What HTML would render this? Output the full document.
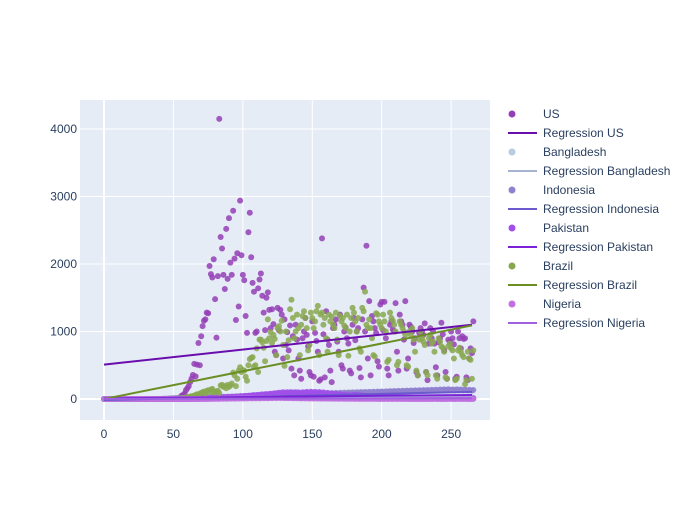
<!DOCTYPE html>
<html><head><meta charset="utf-8"><style>
body{margin:0;background:#fff;font-family:"Liberation Sans",sans-serif}
svg text{font-family:"Liberation Sans",sans-serif;fill:#2a3f5f;font-size:12px}
</style></head><body>
<svg id="chart" width="700" height="500">
<rect x="0" y="0" width="700" height="500" fill="#fff"/>
<rect x="80" y="100" width="410" height="320" fill="#e5ecf6"/>
<g id="grid"></g><g id="marks"></g><g id="lines"></g><g id="axes"></g><g id="legend"></g>
</svg>
<script>
const xTicks=[0,50,100,150,200,250];
const yTicks=[0,1000,2000,3000,4000];
const names=["US","Bangladesh","Indonesia","Pakistan","Brazil","Nigeria"];
const usVals=[0,0,0,0,0,0,0,0,0,0,0,0,0,0,0,0,0,0,0,0,0,0,0,0,0,0,0,0,0,0,0,0,0,0,0,0,0,0,0,0,0,0,0,0,0,
1,0,1,2,3,5,4,8,10,14,
30,50,60,80,130,160,190,250,300,355,520,335,510,830,500,930,1080,1160,1180,1280,1270,1970,1850,1800,2070,1480,910,1820,4150,2400,2230,1840,1630,2520,1780,2680,2020,1840,2790,2080,1170,2160,1370,2940,2130,
1840,1760,1230,980,2470,2760,2100,1720,1590,980,1000,1640,1770,1860,1530,1280,1020,1500,1580,1320,1050,1330,1110,700,650,1350,1020,1320,1250,600,1180,800,990,720,1090,450,930,350,
1100,880,600,420,300,900,1000,1200,950,780,400,350,1150,330,980,860,700,270,290,2380,960,320,1300,880,800,420,250,1050,1100,1180,850,700,1250,500,450,1000,1060,900,820,420,380,1100,1200,870,1000,1050,460,320,1180,1650,1000,2270,600,1450,350,1230,1150,1050,980,560,480,1400,1440,1020,1440,900,450,350,1100,1150,1030,1000,1420,700,420,1250,1150,1100,880,1450,450,600,1100,1070,1000,830,900,400,350,980,1050,1000,950,1120,400,280,820,1050,900,1000,820,470,350,840,900,1130,960,720,400,300,880,850,1000,900,810,300,330,1000,900,750,930,890,900,320,280,600,750,680,1150];
const brazilVals=[0,0,0,0,0,0,0,0,0,0,0,0,0,0,0,0,0,0,0,0,0,0,0,0,0,0,0,0,0,0,0,0,0,0,0,0,0,0,0,0,0,0,0,0,0,0,0,0,0,0,
1,2,3,5,6,8,10,12,15,20,
25,30,35,40,45,50,60,70,65,80,90,100,110,80,120,130,100,140,150,100,100,115,120,90,200,210,180,190,160,210,180,200,230,390,350,190,300,420,470,400,
430,420,330,270,500,590,610,620,480,500,750,400,880,880,840,760,560,860,1180,900,990,830,950,890,650,1050,1080,1000,1160,800,490,1000,620,870,1330,1470,1200,900,1000,1250,
1050,650,1100,1230,1300,1200,1050,720,800,1280,1200,1050,1150,1300,1380,650,1250,1280,1100,1200,900,700,1250,1150,1220,1100,1050,1280,880,650,1230,1150,1200,1090,1050,1250,640,1000,1200,1350,
1280,1150,1000,1200,750,700,1350,1300,1590,1100,1050,1180,1050,900,650,630,1270,1250,1150,1100,1050,1250,1150,1000,550,580,1280,1200,1160,1100,1000,500,550,1150,1100,1050,1000,950,500,480,
1000,950,1050,880,700,420,350,880,1000,900,850,800,400,350,900,950,820,850,700,350,300,900,850,780,760,700,320,300,780,820,750,720,600,280,300,720,760,700,650,620,220,280,700,600,580,300,720];
const bangladeshVals=[0,0,0,0,0,0,0,0,0,0,0,0,0,0,0,0,0,0,0,0,0,0,0,0,0,0,0,0,0,0,0,0,0,0,0,0,0,0,0,0,0,0,0,0,0,0,0,0,0,0,0,0,0,0,0,0,0,0,0,0,
1,0,2,1,3,2,4,5,3,6,5,7,8,6,9,10,8,11,12,10,13,14,12,15,16,14,18,19,17,20,21,19,22,23,21,24,25,22,26,28,
27,25,30,32,28,33,35,31,34,36,38,35,40,42,38,41,43,39,44,45,42,46,48,44,47,49,45,50,52,47,
48,51,46,50,53,45,49,52,44,48,50,43,47,49,42,46,48,41,45,47,40,44,46,39,43,45,38,42,44,37,
41,43,36,40,42,35,39,41,34,38,40,33,37,39,32,36,38,31,35,37,30,34,36,29,33,35,28,32,34,27,
31,33,26,30,32,25,29,31,24,28,30,23,27,29,22,26,28,21,25,27,20,24,26,19,23,25,18,22,24,17,
21,23,16,20,22,15,21,20,14,19,21,15,20,22,18,19,21,
20,22,18,21,23,19,22,20,18,21,23,19,22,20,18,21,23,19,22,20,18,21,23,19,22,20,18,21,23,20];
const indonesiaVals=[0,0,0,0,0,0,0,0,0,0,0,0,0,0,0,0,0,0,0,0,0,0,0,0,0,0,0,0,0,0,0,0,0,0,0,0,0,0,0,0,
1,2,0,3,5,2,6,8,10,7,12,9,14,11,16,13,18,15,20,17,22,19,24,20,26,22,25,21,23,27,
24,20,26,22,28,25,21,30,27,24,31,28,25,33,29,26,34,30,27,35,31,28,37,33,29,39,35,31,40,36,
32,42,38,34,44,40,36,46,42,38,48,44,40,50,46,42,55,50,45,58,52,48,60,54,50,62,56,52,64,58,
54,66,60,56,68,62,58,70,64,60,72,66,62,74,68,64,76,70,66,78,72,68,80,74,70,82,76,72,84,78,
74,86,80,76,88,82,78,90,84,80,92,86,82,94,88,84,96,90,86,98,92,88,100,94,90,102,96,92,104,98,
94,106,100,96,108,102,98,110,104,100,
112,106,102,114,108,104,116,110,106,118,112,108,120,114,110,122,116,112,124,118,
114,126,120,116,128,122,118,130,124,120,132,126,122,134,128,124,136,130,126,138,
132,128,140,134,130,142,136,132,144,138,134,140,136,130,142,138,132,140,134,128,
138,132,126,136,130,124,134];
const pakistanVals=[0,0,0,0,0,0,0,0,0,0,0,0,0,0,0,0,0,0,0,0,0,0,0,0,0,0,0,0,0,0,0,0,0,0,0,0,0,0,0,0,0,0,0,0,0,0,0,0,0,0,0,0,0,0,0,0,0,0,0,0,
1,2,1,3,2,4,5,3,6,7,5,8,9,7,10,12,9,13,15,11,16,18,14,20,22,17,24,26,20,28,30,24,32,34,28,36,38,30,40,42,
35,44,46,38,48,50,42,55,58,46,60,62,50,65,68,55,70,72,60,75,78,65,80,85,70,88,92,75,95,100,80,95,100,82,98,100,84,96,100,88,
98,90,75,100,94,80,105,96,82,108,98,84,106,94,80,104,90,76,98,84,72,90,80,66,84,74,60,76,68,55,70,62,50,64,56,44,58,52,40,54,
62,46,62,55,40,55,48,35,48,42,30,42,38,26,38,34,22,34,30,20,30,28,18,28,26,16,26,24,15,24,22,14,22,20,13,20,19,12,19,18,
11,18,17,10,17,16,9,16,15,8,15,14,8,14,13,7,13,12,7,12,11,6,11,10,6,10,12,8,11,9,10,12,9,
9,11,8,10,12,9,11,8,10,9,12,10,9,11];
const nigeriaVals=[0,0,0,0,0,0,0,0,0,0,0,0,0,0,0,0,0,0,0,0,0,0,0,0,0,0,0,0,0,0,0,0,0,0,0,0,0,0,0,0,0,0,0,0,0,0,0,0,0,0,0,0,0,0,0,0,0,0,0,0,0,0,0,0,0,0,0,0,0,0,
1,0,2,1,0,3,1,2,4,2,3,5,2,4,6,3,5,7,4,6,8,5,7,9,6,8,10,7,9,11,8,10,12,9,11,13,10,12,14,11,
12,15,10,13,16,11,14,17,12,15,18,13,16,19,14,17,20,15,18,16,14,17,15,13,16,14,12,15,13,11,14,12,10,13,11,9,12,10,8,11,
10,8,11,9,7,10,8,6,9,7,5,8,6,5,7,6,4,7,5,4,6,5,3,6,4,3,5,4,3,5,4,2,5,3,2,4,3,2,4,3,
2,4,3,2,4,3,1,3,2,1,3,2,1,3,2,1,3,2,1,3,2,1,3,2,1,3,2,1,2,1,0,2,1,0,2,1,0,2,1,0,
2,1,0,2,1,0,2,1,3,2,1,2,1,0,2,1,2,
1,2,3,1,2,1,0,2,3,1,2,1,2,3,1,2,1,0,2,1];
const regUS=[510,1100];
const regBangladesh=[-5,50];
const regIndonesia=[-15,105];
const regPakistan=[10,60];
const regBrazil=[0,1090];
const regNigeria=[2,12];
const regDays=[0,265];

const NS="http://www.w3.org/2000/svg";
const X0=80,X1=490,Y0=420,Y1=100,xMin=-17.3,xMax=278,yMin=-311,yMax=4430;
const sx=v=>X0+(v-xMin)/(xMax-xMin)*(X1-X0);
const sy=v=>Y0-(v-yMin)/(yMax-yMin)*(Y0-Y1);
function mk(tag,attrs,parent){const e=document.createElementNS(NS,tag);for(const k in attrs)e.setAttribute(k,attrs[k]);parent.appendChild(e);return e;}
const grid=document.getElementById('grid'),axes=document.getElementById('axes'),marks=document.getElementById('marks'),lines=document.getElementById('lines'),legend=document.getElementById('legend');
xTicks.forEach(t=>{
 const l=mk('line',{x1:sx(t),x2:sx(t),y1:Y1,y2:Y0,stroke:'#fff','stroke-width':t===0?2:1},grid);
 
 
 const tx=mk('text',{x:sx(t),y:Y0+18,'text-anchor':'middle'},axes);tx.textContent=t;
 
 
});
yTicks.forEach(t=>{
 const l=mk('line',{x1:X0,x2:X1,y1:sy(t),y2:sy(t),stroke:'#fff','stroke-width':t===0?2:1},grid);
 
 
 const tx=mk('text',{x:X0-3,y:sy(t)+4,'text-anchor':'end'},axes);tx.textContent=t;
 
 
});
const series=[
 {vals:usVals,reg:regUS,mc:'#9440b5',lc:'#6a0dad'},
 {vals:bangladeshVals,reg:regBangladesh,mc:'#b8cce4',lc:'#a4b4d0'},
 {vals:indonesiaVals,reg:regIndonesia,mc:'#9080d0',lc:'#6a5acd'},
 {vals:pakistanVals,reg:regPakistan,mc:'#a050e8',lc:'#7b22d8'},
 {vals:brazilVals,reg:regBrazil,mc:'#88a850',lc:'#6b8e23'},
 {vals:nigeriaVals,reg:regNigeria,mc:'#c070e0',lc:'#a060e0'}
];
series.forEach((s,i)=>{
 const g=mk('g',{},marks);
 
 
 s.vals.forEach((v,d)=>{
  const c=mk('circle',{cx:sx(d),cy:sy(v),r:3,fill:s.mc,'fill-opacity':0.85},g);
  
  
 });
});
series.forEach((s,i)=>{
 const l=mk('line',{x1:sx(regDays[0]),y1:sy(s.reg[0]),x2:sx(regDays[1]),y2:sy(s.reg[1]),stroke:s.lc,'stroke-width':2},lines);
 
 
});
let ly=114;
series.forEach((s,i)=>{
 const c=mk('circle',{cx:512,cy:ly,r:3.5,fill:s.mc},legend);
 
 
 const t=mk('text',{x:543,y:ly+4},legend);t.textContent=names[i];
 
 
 ly+=19;
 const l=mk('line',{x1:508,x2:537,y1:ly,y2:ly,stroke:s.lc,'stroke-width':2},legend);
 
 
 const t2=mk('text',{x:543,y:ly+4},legend);t2.textContent='Regression '+names[i];
 
 
 ly+=19;
});
</script>
</body></html>
